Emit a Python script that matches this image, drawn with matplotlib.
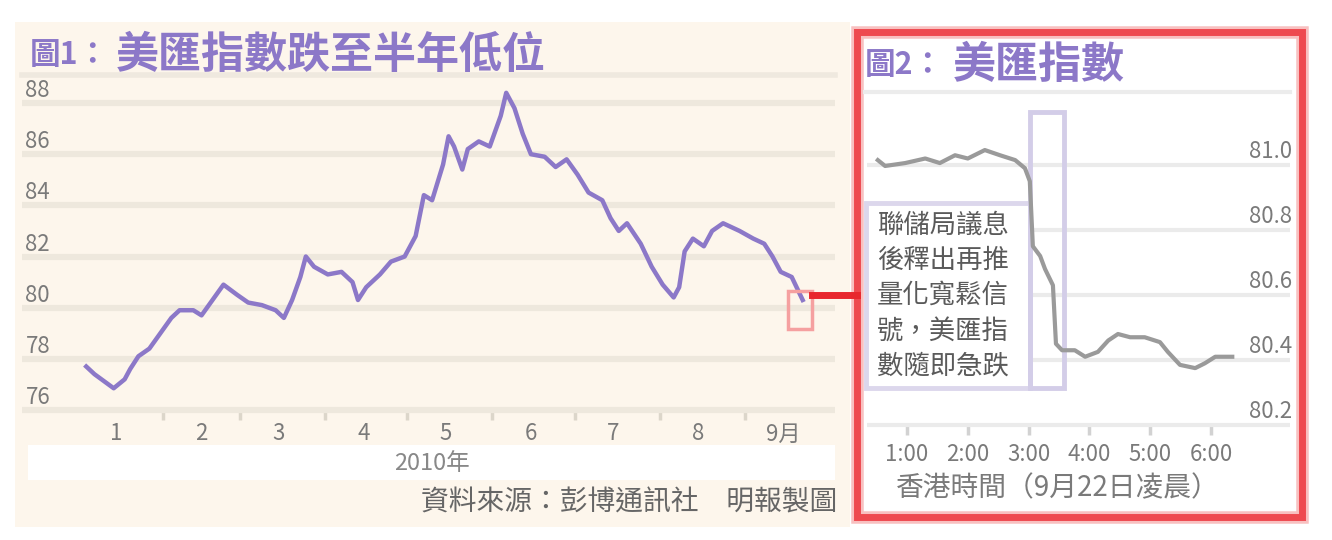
import matplotlib
matplotlib.use('Agg')
import matplotlib.pyplot as plt
import matplotlib.dates as mdates
from matplotlib.patches import Rectangle
from matplotlib.lines import Line2D
from matplotlib.transforms import ScaledTranslation
import pandas as pd

plt.rcParams['font.family'] = ['Noto Sans CJK TC', 'DejaVu Sans']

# ---------------- data: chart 1 (US dollar index, 2010) ----------------
dxy_dates = ['2010-01-04', '2010-01-07', '2010-01-14', '2010-01-18', '2010-01-20',
             '2010-01-23', '2010-01-27', '2010-01-31', '2010-02-04', '2010-02-07',
             '2010-02-12', '2010-02-15', '2010-02-19', '2010-02-23', '2010-02-28',
             '2010-03-04', '2010-03-09', '2010-03-14', '2010-03-17', '2010-03-20',
             '2010-03-23', '2010-03-25', '2010-03-28', '2010-04-02', '2010-04-07',
             '2010-04-11', '2010-04-13', '2010-04-16', '2010-04-21', '2010-04-25',
             '2010-04-30', '2010-05-04', '2010-05-07', '2010-05-10', '2010-05-14',
             '2010-05-16', '2010-05-18', '2010-05-21', '2010-05-23', '2010-05-27',
             '2010-05-31', '2010-06-04', '2010-06-06', '2010-06-09', '2010-06-12',
             '2010-06-15', '2010-06-20', '2010-06-24', '2010-06-28', '2010-07-02',
             '2010-07-06', '2010-07-11', '2010-07-14', '2010-07-17', '2010-07-20',
             '2010-07-25', '2010-07-29', '2010-08-02', '2010-08-06', '2010-08-08',
             '2010-08-10', '2010-08-13', '2010-08-17', '2010-08-20', '2010-08-24',
             '2010-08-30', '2010-09-04', '2010-09-08', '2010-09-11', '2010-09-14',
             '2010-09-18', '2010-09-22']
dxy_values = [77.7, 77.4, 76.85, 77.2, 77.6,
              78.1, 78.4, 79.0, 79.6, 79.9,
              79.9, 79.7, 80.3, 80.9, 80.5,
              80.2, 80.1, 79.9, 79.6, 80.3,
              81.2, 82.0, 81.6, 81.3, 81.4,
              81.0, 80.3, 80.8, 81.3, 81.8,
              82.0, 82.8, 84.4, 84.2, 85.6,
              86.7, 86.3, 85.4, 86.2, 86.5,
              86.3, 87.5, 88.4, 87.8, 86.8,
              86.0, 85.9, 85.5, 85.8, 85.2,
              84.5, 84.2, 83.5, 83.0, 83.3,
              82.5, 81.6, 80.9, 80.4, 80.8,
              82.2, 82.7, 82.4, 83.0, 83.3,
              83.0, 82.7, 82.5, 82.0, 81.4,
              81.2, 80.3]
y1_ticks = [76, 78, 80, 82, 84, 86, 88]
month_labels = ['1', '2', '3', '4', '5', '6', '7', '8', '9月']
year_label = '2010年'
title1_prefix = '圖1：'
title1_text = '美匯指數跌至半年低位'
source_text = '資料來源：彭博通訊社　明報製圖'

# ---------------- data: chart 2 (intraday, HK time 22 Sep) ----------------
hk_hours = [0.52, 0.64, 0.97, 1.30, 1.54, 1.79, 2.00, 2.28, 2.53, 2.78,
            2.94, 3.02, 3.07, 3.19, 3.27, 3.40, 3.45, 3.55, 3.76, 3.93,
            4.14, 4.31, 4.47, 4.67, 4.91, 5.16, 5.29, 5.49, 5.74, 5.90,
            6.07, 6.35]
dxy_intraday = [81.015, 80.997, 81.006, 81.02, 81.006, 81.03, 81.02, 81.046, 81.03, 81.015,
                80.99, 80.95, 80.75, 80.72, 80.68, 80.63, 80.45, 80.43, 80.43, 80.41,
                80.425, 80.46, 80.48, 80.47, 80.47, 80.455, 80.425, 80.385, 80.375, 80.39,
                80.41, 80.41]
y2_ticks = [80.2, 80.4, 80.6, 80.8, 81.0]
y2_labels = ['80.2', '80.4', '80.6', '80.8', '81.0']
hour_ticks = [1, 2, 3, 4, 5, 6]
hour_labels = ['1:00', '2:00', '3:00', '4:00', '5:00', '6:00']
x2_label = '香港時間（9月22日凌晨）'
title2_prefix = '圖2：'
title2_text = '美匯指數'
note_lines = ['聯儲局議息', '後釋出再推', '量化寬鬆信', '號，美匯指', '數隨即急跌']

# ---------------- layout helpers ----------------
W, H = 1332, 540
fig = plt.figure(figsize=(W / 100, H / 100), dpi=100)
fig.patch.set_facecolor('white')


def fx(x):
    return x / W


def fy(y):
    return 1 - y / H


def px_rect(x0, y0, x1, y1, **kw):
    return Rectangle((fx(x0), fy(y1)), (x1 - x0) / W, (y1 - y0) / H,
                     transform=fig.transFigure, **kw)


purple = '#8c78c8'
cream = '#fdf6ec'
label_gray = '#7a7a7a'

# cream background of left panel
fig.add_artist(px_rect(15, 22, 850, 527, facecolor=cream, edgecolor='none', zorder=-3))
# red frame of right panel
fig.add_artist(px_rect(857, 32, 1302, 517, facecolor='white', edgecolor='#f8c0c0',
                       linewidth=9, zorder=-2))
fig.add_artist(px_rect(857, 32, 1302, 517, facecolor='none', edgecolor='#ee4a50',
                       linewidth=5, zorder=-1.5))
# white band for year label
fig.add_artist(px_rect(28, 445, 835, 480, facecolor='white', edgecolor='none', zorder=-1))
# separator lines under the titles
fig.add_artist(Line2D([fx(22), fx(835)], [fy(75), fy(75)], color='#efe9df', lw=4, zorder=-1))
fig.add_artist(Line2D([fx(865), fx(1290)], [fy(92), fy(92)], color='#ececec', lw=3, zorder=-1))

# ---------------- chart 1 ----------------
ax1 = fig.add_axes([fx(22), fy(415), (835 - 22) / W, (415 - 90) / H])
ax1.set_facecolor('none')
ppu1 = 25.58  # pixels per index point
ax1.set_ylim(76 - 5 / ppu1, 76 + 320 / ppu1)
d0 = mdates.date2num(pd.Timestamp('2010-01-01'))
ppd = 2.745  # pixels per day
ax1.set_xlim(d0 - (78 - 22) / ppd, d0 + (835 - 78) / ppd)

ax1.plot(pd.to_datetime(dxy_dates), dxy_values, color=purple, lw=3.2,
         solid_joinstyle='round', zorder=3)

for s in ax1.spines.values():
    s.set_visible(False)
ax1.spines['bottom'].set_position(('data', 76))
ax1.set_axisbelow(True)
ax1.set_yticks(y1_ticks, labels=[str(v) for v in y1_ticks])
ax1.yaxis.grid(True, color='#eee8dd', lw=4.5)
ax1.tick_params(axis='y', length=0, pad=-2.5, labelsize=16, labelcolor=label_gray)

month_mid = pd.date_range('2010-01-01', periods=9, freq='MS') + pd.Timedelta(days=14)
month_start = pd.date_range('2010-02-01', '2010-09-01', freq='MS')
ax1.set_xticks(month_mid, labels=month_labels)
ax1.set_xticks(month_start, minor=True)
ax1.tick_params(axis='x', which='major', length=0, pad=9, labelsize=16, labelcolor=label_gray)
ax1.tick_params(axis='x', which='minor', length=7, width=2.5, color='#dcd6ca', direction='out')

up15 = ScaledTranslation(0, 15 / 100, fig.dpi_scale_trans)
for lbl in ax1.get_yticklabels():
    lbl.set_horizontalalignment('left')
    lbl.set_transform(lbl.get_transform() + up15)

# highlight box around last point and connector
fig.add_artist(px_rect(788, 291, 812, 329, facecolor='none', edgecolor='#f5a0a0',
                       linewidth=2.5, zorder=2))
fig.add_artist(Line2D([fx(812), fx(857)], [fy(295), fy(295)], color='#e8272e', lw=5, zorder=2))

# titles & footers
fig.text(fx(30), fy(55), title1_prefix, fontsize=22, color=purple, weight='bold', va='center')
fig.text(fx(116), fy(55), title1_text, fontsize=31, color=purple, weight='bold', va='center')
fig.text(fx(432), fy(463), year_label, fontsize=17, color='#888888', ha='center', va='center')
fig.text(fx(837), fy(502), source_text, fontsize=20, color='#666666', ha='right', va='center')

# ---------------- chart 2 ----------------
ax2 = fig.add_axes([fx(867), fy(430), (1290 - 867) / W, (430 - 100) / H])
ax2.set_facecolor('none')
ppu2 = 325.0
ax2.set_ylim(80.2 - 5 / ppu2, 81.0 + 65 / ppu2)
pph = 60.8
ax2.set_xlim(1 + (867 - 907) / pph, 1 + (1290 - 907) / pph)

for s in ax2.spines.values():
    s.set_visible(False)
ax2.spines['bottom'].set_position(('data', 80.2))
ax2.set_axisbelow(True)
ax2.yaxis.tick_right()
ax2.set_yticks(y2_ticks, labels=y2_labels)
ax2.yaxis.grid(True, color='#ebebeb', lw=3)
ax2.tick_params(axis='y', length=0, pad=1.5, labelsize=16, labelcolor=label_gray)
up16 = ScaledTranslation(0, 16 / 100, fig.dpi_scale_trans)
for lbl in ax2.get_yticklabels():
    lbl.set_horizontalalignment('right')
    lbl.set_transform(lbl.get_transform() + up16)

ax2.set_xticks(hour_ticks, labels=hour_labels)
ax2.tick_params(axis='x', length=7, width=2.5, color='#d2d2d2', direction='out', pad=6,
                labelsize=16, labelcolor=label_gray)
ax2.set_xlabel(x2_label, fontsize=20, color=label_gray)
ax2.xaxis.set_label_coords((1058 - 867) / 423, (430 - 473) / 330)

ax2.plot(hk_hours, dxy_intraday, color='#9a9a9a', lw=3, solid_joinstyle='round', zorder=3)

# annotation: note box and highlight of the drop
note_box = px_rect(866, 203, 1030, 388, facecolor='white', edgecolor='#dcd7ec',
                   linewidth=3.5, zorder=1.5, clip_on=False)
ax2.add_artist(note_box)
drop_box = px_rect(1030, 112, 1064, 388, facecolor='none', edgecolor='#d3cde8',
                   linewidth=3.5, zorder=2.5, clip_on=False)
ax2.add_artist(drop_box)
for i, line in enumerate(note_lines):
    ax2.text(fx(943), fy(225 + i * 35.3), line, transform=fig.transFigure, fontsize=19,
             color='#5a5a5a', ha='center', va='center', zorder=4)

fig.text(fx(865), fy(65), title2_prefix, fontsize=22, color=purple, weight='bold', va='center')
fig.text(fx(953), fy(65), title2_text, fontsize=31, color=purple, weight='bold', va='center')

fig.savefig('out.png', dpi=100)
